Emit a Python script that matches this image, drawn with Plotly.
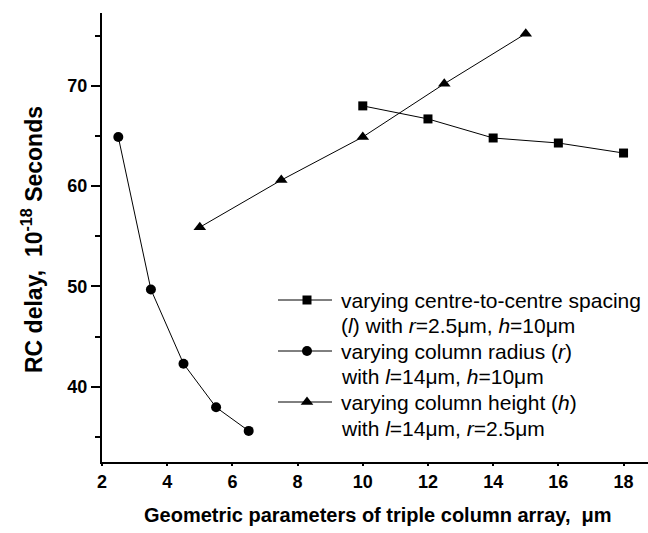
import plotly.graph_objects as go

# ---- data ----
spacing_x = [10, 12, 14, 16, 18]
spacing_y = [68.0, 66.7, 64.8, 64.3, 63.3]

radius_x = [2.5, 3.5, 4.5, 5.5, 6.5]
radius_y = [64.9, 49.7, 42.3, 37.95, 35.6]

height_x = [5, 7.5, 10, 12.5, 15]
height_y = [55.9, 60.6, 64.9, 70.2, 75.2]

x_tick_vals = [2, 4, 6, 8, 10, 12, 14, 16, 18]
y_tick_vals = [40, 50, 60, 70]

legend_lines = [
    "varying centre-to-centre spacing",
    "(<i>l</i>) with <i>r</i>=2.5μm, <i>h</i>=10μm",
    "varying column radius (<i>r</i>)",
    "with <i>l</i>=14μm, <i>h</i>=10μm",
    "varying column height (<i>h</i>)",
    "with <i>l</i>=14μm, <i>r</i>=2.5μm",
]

FONT = "Liberation Sans, Arial, sans-serif"
W, H = 648, 533
ML, MR, MT, MB = 102, 0, 13, 71
XR = [2, 18.75]
YR = [32.5, 77.26]


def px_to_paper(px, py):
    return (px - ML) / (W - ML - MR), (H - MB - py) / (H - MB - MT)


fig = go.Figure()

line_style = dict(color="black", width=1)
fig.add_trace(go.Scatter(x=spacing_x, y=spacing_y, mode="lines+markers",
                         line=line_style,
                         marker=dict(symbol="square", size=9, color="black"),
                         showlegend=False))
fig.add_trace(go.Scatter(x=radius_x, y=radius_y, mode="lines+markers",
                         line=line_style,
                         marker=dict(symbol="circle", size=10, color="black"),
                         showlegend=False))
fig.add_trace(go.Scatter(x=height_x, y=height_y, mode="lines+markers",
                         line=line_style,
                         marker=dict(symbol="triangle-up", size=11, color="black"),
                         showlegend=False))

# ---- manual legend drawn on a pixel-coordinate overlay axis ----
leg_x0, leg_x1, leg_mx, leg_tx = 278, 332, 307, 339
leg_rows = [300, 325, 351, 376, 402, 428]
symbols = ["square", "circle", "triangle-up"]
sizes = [9, 10, 11]
for i, sym in enumerate(symbols):
    yy = leg_rows[2 * i]
    fig.add_trace(go.Scatter(x=[leg_x0, leg_x1], y=[yy, yy], mode="lines",
                             line=line_style, xaxis="x3", yaxis="y3",
                             showlegend=False, hoverinfo="skip"))
    fig.add_trace(go.Scatter(x=[leg_mx], y=[yy], mode="markers",
                             marker=dict(symbol=sym, size=sizes[i], color="black"),
                             xaxis="x3", yaxis="y3",
                             showlegend=False, hoverinfo="skip"))
for txt, yy in zip(legend_lines, leg_rows):
    fig.add_annotation(x=leg_tx, y=yy, xref="x3", yref="y3", text=txt,
                       showarrow=False, xanchor="left", yanchor="middle",
                       font=dict(family=FONT, size=21, color="black"))

# axis titles (paper coordinates)
tx, ty = px_to_paper(378, 515)
fig.add_annotation(x=tx, y=ty, xref="paper", yref="paper",
                   text="<b>Geometric parameters of triple column array,  μm</b>",
                   showarrow=False, xanchor="center", yanchor="middle",
                   font=dict(family=FONT, size=20, color="black"))
tx, ty = px_to_paper(32, 240)
fig.add_annotation(x=tx, y=ty, xref="paper", yref="paper",
                   text="<b>RC delay,  10<sup>-18</sup> Seconds</b>",
                   textangle=-90, showarrow=False, xanchor="center", yanchor="middle",
                   font=dict(family=FONT, size=23, color="black"))

tickfont = dict(family=FONT, size=18, color="black", weight="bold")

fig.update_layout(
    width=W, height=H,
    margin=dict(l=ML, r=MR, t=MT, b=MB, pad=0),
    paper_bgcolor="white", plot_bgcolor="white",
    showlegend=False,
    # bottom axis: carries the labels (short major tick so labels sit close)
    xaxis=dict(range=XR, showgrid=False, zeroline=False,
               showline=True, linecolor="black", linewidth=2,
               tickmode="array", tickvals=x_tick_vals,
               ticks="outside", ticklen=2, tickwidth=1.5, tickcolor="black",
               tickfont=tickfont),
    # bottom axis tick marks (major + minor)
    xaxis4=dict(range=XR, overlaying="x", side="bottom", showgrid=False,
                zeroline=False, showline=False, showticklabels=False,
                tickmode="array", tickvals=x_tick_vals,
                ticks="outside", ticklen=8, tickwidth=1.5, tickcolor="black",
                minor=dict(dtick=1, tick0=0, ticks="outside", ticklen=5,
                           tickwidth=1.5, tickcolor="black", showgrid=False)),
    xaxis2=dict(range=XR, overlaying="x", side="top", showgrid=False,
                zeroline=False, showline=True, linecolor="black", linewidth=2,
                showticklabels=False, tickmode="array", tickvals=x_tick_vals,
                ticks="inside", ticklen=8, tickwidth=1.5, tickcolor="black",
                minor=dict(dtick=1, tick0=0, ticks="inside", ticklen=5,
                           tickwidth=1.5, tickcolor="black", showgrid=False)),
    yaxis=dict(range=YR, showgrid=False, zeroline=False,
               showline=True, linecolor="black", linewidth=2,
               tickmode="array", tickvals=y_tick_vals,
               ticks="outside", ticklen=9, tickwidth=1.5, tickcolor="black",
               minor=dict(dtick=5, tick0=0, ticks="outside", ticklen=5,
                          tickwidth=1.5, tickcolor="black", showgrid=False),
               tickfont=tickfont),
    xaxis3=dict(range=[ML, W], overlaying="x", visible=False),
    yaxis3=dict(range=[H - MB, MT], overlaying="y", visible=False),
)

fig.write_html("out.html")
